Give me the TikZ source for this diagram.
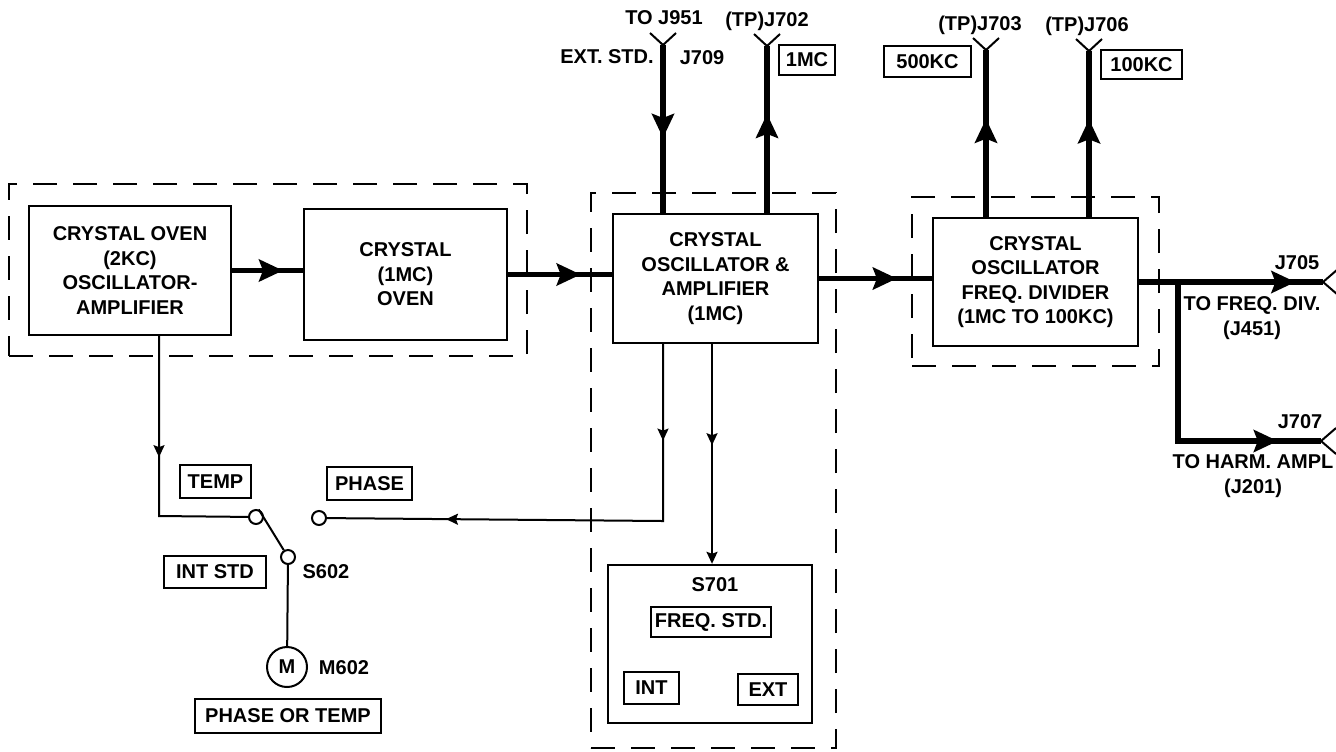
\documentclass[tikz,border=0pt]{standalone}
\usepackage{fontspec}
\setmainfont{Liberation Sans}
\usetikzlibrary{arrows.meta,decorations.markings}
\tikzset{
  bigtip/.tip={Stealth[length=12pt,width=11pt,inset=2pt]},
  smalltip/.tip={Stealth[length=6pt,width=5.5pt,inset=1pt]},
  lbl/.style={font=\fontsize{10}{12.3}\selectfont\bfseries,align=center,inner sep=0pt},
  wire/.style={line width=1pt},
  heavy/.style={line width=2.7pt},
  midbig/.style={decoration={markings,mark=at position #1 with {\arrow{bigtip}}},postaction={decorate}},
  contact/.style={circle,draw,line width=1pt,minimum size=7pt,inner sep=0pt}
}
\newcommand{\blockbox}[5]{
  \node[lbl,draw,line width=1.2pt,minimum width=#3*0.5pt,minimum height=#4*0.5pt] (#1) at #2 {#5};
}
\newcommand{\groupbox}[4]{
  \node[draw,line width=1pt,dash pattern=on 12pt off 8pt,minimum width=#3*0.5pt,minimum height=#4*0.5pt] (#1) at #2 {};
}
\newcommand{\forkup}[2]{
  \coordinate (#1) at #2;
  \draw[wire] (#1) ++(-13,-12) -- (#1) -- ++(13,-12);
}
\newcommand{\forkright}[2]{
  \coordinate (#1) at #2;
  \draw[wire] (#1) ++(15,-13) -- (#1) -- ++(15,13);
}

\begin{document}
\begin{tikzpicture}[x=0.5pt,y=-0.5pt,>=Latex]
  \useasboundingbox (0,0) rectangle (1336,751);

  \groupbox{ovengroup}{(268,270)}{518}{172}
  \groupbox{ampgroup}{(713.5,470.5)}{245}{555}
  \groupbox{divgroup}{(1035.5,281.5)}{247}{169}

  \blockbox{osc}{(130,270.5)}{202}{129}{CRYSTAL OVEN\\(2KC)\\OSCILLATOR-\\AMPLIFIER}
  \blockbox{oven}{(405.5,274.5)}{203}{131}{CRYSTAL\\(1MC)\\OVEN}
  \blockbox{amp}{(715.5,278.5)}{205}{129}{CRYSTAL\\OSCILLATOR \&\\AMPLIFIER\\(1MC)}
  \blockbox{divider}{(1035.5,282)}{205}{128}{CRYSTAL\\OSCILLATOR\\FREQ. DIVIDER\\(1MC TO 100KC)}
  \blockbox{switchbox}{(710,644)}{204}{158}{}

  \blockbox{tagimc}{(807,60)}{56}{30}{1MC}
  \blockbox{tagfive}{(927.5,61.5)}{87}{31}{500KC}
  \blockbox{taghund}{(1141.5,64.5)}{81}{29}{100KC}
  \blockbox{tagtemp}{(215.5,481.5)}{71}{33}{TEMP}
  \blockbox{tagphase}{(369.5,483.5)}{85}{33}{PHASE}
  \blockbox{tagintstd}{(215,572)}{102}{32}{INT STD}
  \blockbox{tagmeter}{(288,716)}{186}{34}{PHASE OR TEMP}
  \blockbox{tagfreq}{(711,622)}{120}{30}{FREQ. STD.}
  \blockbox{tagint}{(651.5,688)}{55}{32}{INT}
  \blockbox{tagext}{(768,689.5)}{60}{31}{EXT}

  \node[lbl] (ls701) at (715,585) {S701};
  \node[lbl] (lj951) at (664,18) {TO J951};
  \node[lbl] (lj702) at (767,21) {(TP)J702};
  \node[lbl] (lext) at (607,57) {EXT. STD.};
  \node[lbl] (lj709) at (702,58) {J709};
  \node[lbl] (lj703) at (980,25) {(TP)J703};
  \node[lbl] (lj706) at (1087,26) {(TP)J706};
  \node[lbl] (lj705) at (1297,263) {J705};
  \node[lbl] (lfreq) at (1252,318) {TO FREQ. DIV.\\(J451)};
  \node[lbl] (lj707) at (1300,422) {J707};
  \node[lbl] (lharm) at (1253,476) {TO HARM. AMPL\\(J201)};
  \node[lbl] (ls602) at (326,572) {S602};
  \node[lbl] (lm602) at (344,668) {M602};

  \forkup{j709}{(663,45)}
  \forkup{j702}{(767,46)}
  \forkup{j703}{(986,50)}
  \forkup{j706}{(1089,51)}
  \forkright{j705}{(1323,282)}
  \forkright{j707}{(1321,441)}

  \draw[heavy,midbig=.72] (osc.east) -- (oven.west |- osc.east);
  \draw[heavy,midbig=.70] (oven.east) -- (amp.west |- oven.east);
  \draw[heavy,midbig=.69] (amp.east) -- (divider.west |- amp.east);
  \draw[heavy,midbig=.85] (divider.east) -- (j705);
  \coordinate (branch) at (1178,282);
  \draw[heavy,midbig=.857] (branch) |- (j707);
  \draw[heavy,midbig=.554] (j709) -- (j709 |- amp.north);
  \draw[heavy,midbig=.593] (j702 |- amp.north) -- (j702);
  \draw[heavy,midbig=.588] (j703 |- divider.north) -- (j703);
  \draw[heavy,midbig=.588] (j706 |- divider.north) -- (j706);

  \node[contact] (tempc) at (256,517) {};
  \node[contact] (phasec) at (319,518) {};
  \node[contact] (s602c) at (288,557) {};
  \node[lbl,circle,draw,line width=1pt,minimum size=20pt] (motor) at (287,667) {M};

  \coordinate (tempbend) at (159,516);
  \coordinate (phasebend) at (663,521);
  \coordinate (freqtap) at (712,343);
  \draw[wire,decoration={markings,mark=at position .45 with {\arrow{smalltip}}},postaction={decorate}] (tempbend |- osc.south) -- (tempbend) -- (tempc);
  \draw[wire,decoration={markings,mark=at position .188 with {\arrow{smalltip}},mark=at position .768 with {\arrow{smalltip}}},postaction={decorate}] (phasebend |- amp.south) -- (phasebend) -- (phasec);
  \draw[wire,-{smalltip},decoration={markings,mark=at position .46 with {\arrow{smalltip}}},postaction={decorate}] (freqtap |- amp.south) -- (freqtap |- switchbox.north);
  \draw[wire] (tempc.70) -- (s602c);
  \draw[wire] (s602c) -- (motor);
\end{tikzpicture}
\end{document}
